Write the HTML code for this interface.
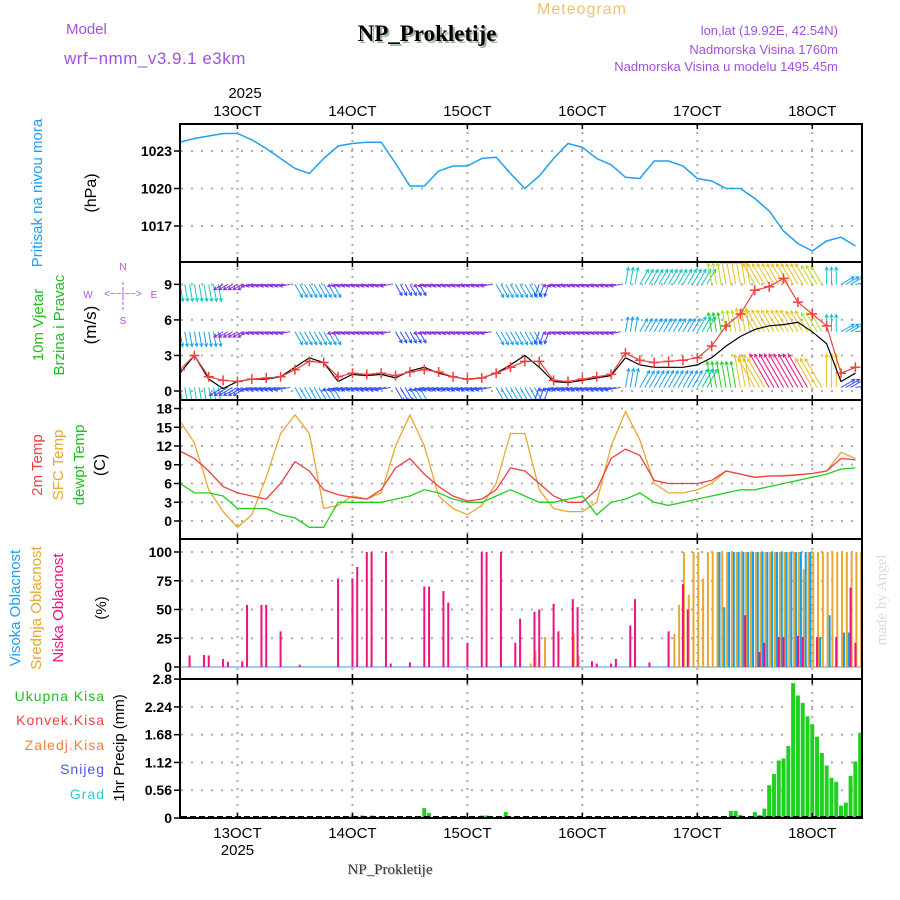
<!DOCTYPE html>
<html><head><meta charset="utf-8"><title>Meteogram NP_Prokletije</title>
<style>
body{margin:0;background:#fff;}
svg{display:block;font-family:"Liberation Sans",sans-serif;}
.tk{font-size:14px;font-weight:bold;fill:#000;text-anchor:end;}
.dl{font-size:15px;fill:#000;text-anchor:middle;}
</style></head><body>
<svg id="chart" width="900" height="900" viewBox="0 0 900 900">
<defs>
<clipPath id="c1"><rect x="181" y="125" width="680" height="136"/></clipPath>
<clipPath id="c2"><rect x="181" y="263" width="680" height="136"/></clipPath>
<clipPath id="c3"><rect x="181" y="401" width="680" height="137"/></clipPath>
<clipPath id="c4"><rect x="181" y="539" width="680" height="139"/></clipPath>
<clipPath id="c5"><rect x="181" y="680" width="680" height="138"/></clipPath>
</defs>
<text x="582" y="14" font-size="16" fill="#f0c070" text-anchor="middle" letter-spacing="1">Meteogram</text>
<text x="66" y="34" font-size="15" fill="#a050e0">Model</text>
<text x="64" y="64" font-size="17" fill="#a050e0" letter-spacing="0.5">wrf−nmm_v3.9.1 e3km</text>
<text x="429" y="43" font-family="Liberation Serif,serif" font-size="23" font-weight="bold" fill="#9cb89c" text-anchor="middle">NP_Prokletije</text>
<text x="427" y="41" font-family="Liberation Serif,serif" font-size="23" font-weight="bold" fill="#000" text-anchor="middle">NP_Prokletije</text>
<text x="838" y="35" font-size="13" fill="#a050e0" text-anchor="end">lon,lat (19.92E, 42.54N)</text>
<text x="838" y="54" font-size="13" fill="#a050e0" text-anchor="end">Nadmorska Visina 1760m</text>
<text x="838" y="71" font-size="13" fill="#a050e0" text-anchor="end">Nadmorska Visina u modelu 1495.45m</text>
<text x="245" y="98" class="dl">2025</text>

<text transform="translate(42,193) rotate(-90)" font-size="15" fill="#20a0f0" text-anchor="middle">Pritisak na nivou mora</text>
<text transform="translate(96,193) rotate(-90)" font-size="16" fill="#000" text-anchor="middle">(hPa)</text>
<text transform="translate(43,325) rotate(-90)" font-size="15" fill="#20c020" text-anchor="middle">10m Vjetar</text>
<text transform="translate(64,325) rotate(-90)" font-size="15" fill="#20c020" text-anchor="middle">Brzina i Pravac</text>
<text transform="translate(96,325) rotate(-90)" font-size="17" fill="#000" text-anchor="middle">(m/s)</text>
<g fill="#b050e0" font-size="10" text-anchor="middle">
<text x="123" y="270">N</text><text x="123" y="324">S</text><text x="88" y="298">W</text><text x="154" y="298">E</text>
<text x="123" y="297" font-size="10">&lt;−−|−−&gt;</text>
<line x1="123" y1="282" x2="123" y2="310" stroke="#b050e0" stroke-dasharray="3,2"/>
</g>
<text transform="translate(42,465) rotate(-90)" font-size="15" fill="#f04040" text-anchor="middle">2m Temp</text>
<text transform="translate(63,465) rotate(-90)" font-size="15" fill="#e8a830" text-anchor="middle">SFC Temp</text>
<text transform="translate(84,465) rotate(-90)" font-size="15" fill="#20c020" text-anchor="middle">dewpt Temp</text>
<text transform="translate(105,465) rotate(-90)" font-size="16" fill="#000" text-anchor="middle">(C)</text>
<text transform="translate(20,608) rotate(-90)" font-size="15" fill="#20a0f0" text-anchor="middle">Visoka Oblacnost</text>
<text transform="translate(41,608) rotate(-90)" font-size="15" fill="#e8a830" text-anchor="middle">Srednja Oblacnost</text>
<text transform="translate(63,608) rotate(-90)" font-size="15" fill="#f01080" text-anchor="middle">Niska Oblacnost</text>
<text transform="translate(106,608) rotate(-90)" font-size="15" fill="#000" text-anchor="middle">(%)</text>
<g font-size="14" text-anchor="end" letter-spacing="1">
<text x="105" y="701" fill="#20c020">Ukupna Kisa</text>
<text x="105" y="725" fill="#f04040">Konvek.Kisa</text>
<text x="105" y="750" fill="#f08040">Zaledj.Kisa</text>
<text x="105" y="774" fill="#5050f0">Snijeg</text>
<text x="105" y="799" fill="#30c8d0">Grad</text>
</g>
<text transform="translate(124,748) rotate(-90)" font-size="15" fill="#000" text-anchor="middle">1hr Precip (mm)</text>
<text transform="translate(886,600) rotate(-90)" font-family="Liberation Serif,serif" font-size="15" fill="#d8dcd8" text-anchor="middle">made by Angel</text>
<text x="391" y="875" font-family="Liberation Serif,serif" font-size="15" fill="#c8d0c8" text-anchor="middle">NP_Prokletije</text>
<text x="390" y="874" font-family="Liberation Serif,serif" font-size="15" fill="#333" text-anchor="middle">NP_Prokletije</text>
<g id="grid"></g>
<g id="marks"></g>
<g id="frame"></g>
</svg>
<script>
const dayLabels = ["13OCT","14OCT","15OCT","16OCT","17OCT","18OCT"];
const pressure = [1023.7,1024.0,1024.2,1024.4,1024.4,1023.9,1023.2,1022.4,1021.6,1021.2,1022.4,1023.4,1023.6,1023.7,1023.7,1022.0,1020.2,1020.2,1021.4,1021.8,1021.8,1022.4,1022.5,1021.2,1020.0,1021.0,1022.4,1023.6,1023.3,1022.4,1021.9,1020.9,1020.8,1022.2,1022.2,1021.8,1020.8,1020.6,1020.0,1020.0,1019.2,1018.2,1016.6,1015.6,1015.0,1015.8,1016.1,1015.4];
const temp2m = [11.2,10,8,5.5,4.5,4,3.5,6,9.5,8,5,4.2,3.8,3.5,5,8.5,10,7.5,5.5,4,3.2,3.5,5,8.5,8,6,4,3,3,5,10,11.5,10.5,6.5,6,6,6,6.5,8,7.5,7,7.2,7.2,7.4,7.6,8,10,9.8];
const tempSfc = [16,12.5,5,1.5,-1,1,7,14,17,14,2,2.5,4,3.5,4.5,12,17,12,4,2,1,2.5,6,14,14,5,2,1.5,1.5,3,12,17.5,13,6,4.5,4.5,5,6,8,7.5,7,7.2,7.3,7.4,7.6,8,11,10];
const dewpt = [6,4.5,4.5,4,2,2,2,1,0.5,-1,-1,3,3,3,3,3.5,4,5,4.5,3.5,3,3,4,5,4,3,3,3.5,4,1,3,3.5,4.5,3,2.5,3,3.5,4,4.5,5,5,5.5,6,6.5,7,7.5,8.3,8.5];
const windSpeed = [1.8,3,1.2,0.9,0.8,1,1.1,1.2,1.8,2.5,2.4,1.2,1.5,1.4,1.5,1.3,1.6,1.8,1.6,1.2,1.0,1.1,1.5,2,2.5,2.5,0.9,0.8,1.0,1.2,1.4,3.2,2.6,2.4,2.5,2.6,2.8,3.8,5.5,6.5,8.5,8.8,9.5,7.5,6.5,5.5,1.5,2];
const windMean = [1.5,3,1,0.2,0.8,1,1,1.2,2,2.8,2.4,0.8,1.4,1.3,1.4,1.1,1.7,2,1.5,1.2,1.0,1.1,1.5,2.2,3,2,0.8,0.7,0.9,1.1,1.3,2.8,2.2,2,2,2,2.2,2.8,3.8,4.6,5.2,5.5,5.6,5.8,5,4,0.8,1.5];
const windDir = [170,170,170,240,240,260,260,260,150,150,150,260,260,260,260,150,150,260,260,260,260,260,150,150,150,200,260,260,260,260,260,10,30,30,30,30,30,350,350,350,330,330,330,330,330,0,60,80];
const speedTop = [6,6,6,3,3,3,3,3,5,5,5,3,3,3,3,4,4,3,3,3,3,3,5,5,5,4,3,3,3,3,3,6,6,6,6,6,6,8,9,9,9,9,9,9,8,6,5,5];
const speedMid = [5,5,5,3,3,3,3,3,5,5,5,3,3,3,3,4,4,3,3,3,3,3,5,5,5,4,3,3,3,3,3,5,5,5,5,5,6,7,8,9,9.5,9.5,9.5,9,8,6,5,5];
const speedLow = [6,6,6,4.5,4.5,4.5,4.5,4.5,5,5,5,4.5,4.5,4.5,4.5,4.5,5,4.5,4.5,4.5,4.5,4.5,5,5,5,4.5,4.5,4.5,4.5,4.5,4.5,5.5,5.5,5.5,5.5,5.5,6,7.5,7.5,9.5,9.5,11,11,11,9.5,9.5,4.5,4.5];
const lowHours = [2,5,6,9,10,13,14,17,18,21,25,33,36,37,39,40,43,44,48,51,52,55,56,60,63,64,67,70,71,74,75,78,79,82,83,86,87,90,91,94,95,98,102,105,106,118,121,122,125,126,129,130,133,137,140,141];
const lowVals  = [10,10.5,10,7,4.5,5,54,54,54,31,2,77,77,87,100,100,100,3,4,70,70,66,56,21,100,100,100,21,42,48,50,55,31,59,52,5,3,3,7,36,59,4,31,72,50,45,13,21,26,26,27,26,26,26,69,21];
const midHours = [73,74,76,82,83,103,104,105,106,107,108,109,110,111,112,113,114,115,116,117,118,119,120,121,122,123,124,125,126,127,128,129,130,131,132,133,134,135,136,137,138,139,140,141,142,143];
const midVals  = [3,14,26,29,10,29,54,100,63,100,100,77,100,100,100,100,100,100,100,100,100,100,100,100,100,100,100,100,100,100,100,100,85,100,100,100,100,100,100,100,100,100,100,100,100,100];
const highHours = [112,113,114,115,116,117,118,119,120,121,122,123,124,125,126,127,128,129,130,131,133,135,138,139];
const highVals  = [100,52,100,100,100,100,100,100,100,100,100,100,100,100,100,100,100,100,100,100,26,45,30,30];
const precipHours = [16,17,18,36,38,40,51,52,63,64,68,115,116,117,119,120,121,122,123,124,125,126,127,128,129,130,131,132,133,134,135,136,137,138,139,140,141,142,143];
const precipVals  = [0.03,0.03,0.03,0.05,0.05,0.05,0.2,0.1,0.05,0.05,0.12,0.145,0.145,0.06,0.04,0.12,0.06,0.19,0.66,0.89,1.16,1.2,1.45,2.72,2.47,2.32,2.05,1.89,1.64,1.31,1.06,0.81,0.73,0.25,0.31,0.85,1.14,1.72,1.74];
const pTicks = [1017,1020,1023];
const wTicks = [0,3,6,9];
const tTicks = [0,3,6,9,12,15,18];
const cTicks = [0,25,50,75,100];
const rTicks = [0,0.56,1.12,1.68,2.24,2.8];
const rTickLabels = ["0","0.56","1.12","1.68","2.24","2.8"];

const X0 = 180, PXH = 4.79, XR = 862;
const xH = h => X0 + h*PXH;
const yP = p => 151 + (1023-p)*12.5;
const yW = v => 391 - v*11.85;
const yT = t => 521 - t*6.25;
const yC = c => 667 - c*1.15;
const yR = r => 818 - r*49.6;
const NS = "http://www.w3.org/2000/svg";
const grid = document.getElementById('grid');
const marks = document.getElementById('marks');
const frame = document.getElementById('frame');
function mk(tag, attrs, parent){ const e=document.createElementNS(NS,tag); for(const k in attrs) e.setAttribute(k,attrs[k]); parent.appendChild(e); return e; }

const panels = [[124,262],[262,400],[400,539],[539,679],[679,818]];
dayLabels.forEach((d,i)=>{
  const x = xH(12+24*i);
  const gl = mk('line',{x1:x,y1:124,x2:x,y2:818,stroke:'#aaa','stroke-width':2,'stroke-dasharray':'2,6'},grid);
  
  
  const t = mk('text',{x:x,y:116,class:'dl'},grid); t.textContent=d;
  
  
  const b = mk('text',{x:x,y:838,class:'dl'},grid); b.textContent=d;
  
  
  panels.forEach(p=>{ mk('line',{x1:x,y1:p[0],x2:x,y2:p[0]+5,stroke:'#000','stroke-width':1.5},frame); mk('line',{x1:x,y1:p[1]-5,x2:x,y2:p[1],stroke:'#000','stroke-width':1.5},frame); });
});
{ const y = mk('text',{x:xH(12),y:855,class:'dl'},grid); y.textContent='2025';
  
   }

function hTicks(ticks, yf, labels, name){
  ticks.forEach((v,i)=>{
    const y=yf(v);
    const g = mk('line',{x1:181,y1:y,x2:XR,y2:y,stroke:'#aaa','stroke-width':2,'stroke-dasharray':'2,8'},grid);
    
    
    mk('line',{x1:174,y1:y,x2:181,y2:y,stroke:'#000','stroke-width':1.5},frame);
    const t = mk('text',{x:172,y:y+5,class:'tk'},frame); t.textContent = labels? labels[i] : String(v);
    
    
  });
}
hTicks(pTicks,yP,null,'pressure');
hTicks(wTicks,yW,null,'wind');
hTicks(tTicks,yT,null,'temp');
hTicks(cTicks,yC,null,'cloud');
hTicks(rTicks,yR,rTickLabels,'precip');

panels.forEach((p,i)=>{
  const r = mk('rect',{x:180,y:p[0],width:XR-180,height:p[1]-p[0],fill:'none',stroke:'#000','stroke-width':2},frame);
  
  
});

function linePath(arr, yf){ return arr.map((v,i)=>(i?'L':'M')+xH(3*i).toFixed(1)+','+yf(v).toFixed(1)).join(''); }
{ const g = mk('g',{'clip-path':'url(#c1)'},marks);
  const l = mk('path',{d:linePath(pressure,yP),fill:'none',stroke:'#20a0f0','stroke-width':1.5},g);
  
   }
{ const g = mk('g',{'clip-path':'url(#c3)'},marks);
  const a = mk('path',{d:linePath(tempSfc,yT),fill:'none',stroke:'#e8a830','stroke-width':1.3},g);
  
  
  const b = mk('path',{d:linePath(temp2m,yT),fill:'none',stroke:'#f04040','stroke-width':1.3},g);
  
  
  const c = mk('path',{d:linePath(dewpt,yT),fill:'none',stroke:'#20d020','stroke-width':1.3},g);
  
   }
function spdColor(s){
  const pal=['#8a2be2','#8a2be2','#8a2be2','#8a2be2','#3050ff','#1ea0f0','#10c8c0','#20d020','#b0e020','#e8c020','#f09020','#f01080'];
  return pal[Math.max(0,Math.min(pal.length-1,Math.floor(s)))];
}
{ const g = mk('g',{'clip-path':'url(#c2)'},marks);
  const rows = [[9,speedTop,2.2,4],[5,speedMid,2.2,4],[0.3,speedLow,3.5,0]];
  rows.forEach((row,ri)=>{
    windDir.forEach((d,i)=>{
      for(let k=0;k<3;k++){
        const s=row[1][i], L=row[3]+s*row[2], x=xH(3*i+k), y=yW(row[0]);
        const a=d*Math.PI/180, x2=x+L*Math.sin(a), y2=y-L*Math.cos(a);
        const col=spdColor(s);
        const h1=a+Math.PI-0.5, h2=a+Math.PI+0.5;
        const p = mk('path',{d:`M${x},${y}L${x2},${y2}M${x2+3.5*Math.sin(h1)},${y2-3.5*Math.cos(h1)}L${x2},${y2}L${x2+3.5*Math.sin(h2)},${y2-3.5*Math.cos(h2)}`,fill:'none',stroke:col,'stroke-width':1},g);
        
        
      }
    });
  });
  const bl = mk('path',{d:linePath(windMean,yW),fill:'none',stroke:'#000','stroke-width':1.2},g);
  
  
  const rl = mk('path',{d:linePath(windSpeed,yW),fill:'none',stroke:'#f04040','stroke-width':1.2},g);
  
  
  windSpeed.forEach((v,i)=>{
    const x=xH(3*i), y=yW(v);
    const m = mk('path',{d:`M${x-5},${y}h10M${x},${y-5}v10`,stroke:'#f04040','stroke-width':1.5},g);
    
    
  });
}
{ const g = mk('g',{'clip-path':'url(#c4)'},marks);
  mk('line',{x1:181,y1:yC(0),x2:XR,y2:yC(0),stroke:'#9cd0f0','stroke-width':2},g);
  function bars(hours, vals, col, off, name){
    hours.forEach((h,i)=>{
      const x=xH(h)+off;
      const r = mk('rect',{x:x,y:yC(vals[i]),width:2,height:yC(0)-yC(vals[i]),fill:col},g);
      
      
    });
  }
  bars(midHours,midVals,'#e8a830',0,'mid-cloud-bar');
  bars(highHours,highVals,'#10a0f0',2,'high-cloud-bar');
  bars(lowHours,lowVals,'#f01080',-1,'low-cloud-bar');
}
{ const g = mk('g',{'clip-path':'url(#c5)'},marks);
  precipHours.forEach((h,i)=>{
    const x=xH(h)-2;
    const r = mk('rect',{x:x,y:yR(precipVals[i]),width:4,height:yR(0)-yR(precipVals[i]),fill:'#20d020'},g);
    
    
  });
  mk('line',{x1:181,y1:817,x2:XR,y2:817,stroke:'#000','stroke-width':2,'stroke-dasharray':'6,3'},g);
}
</script>
</body></html>
